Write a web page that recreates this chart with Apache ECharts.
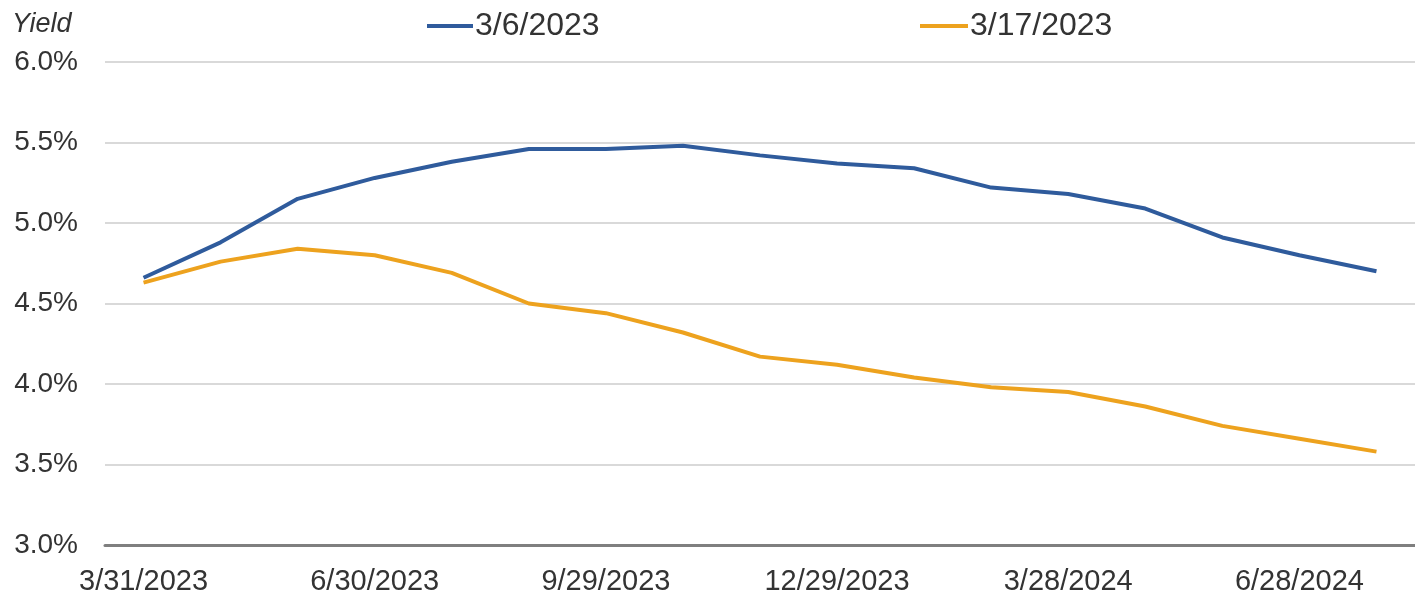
<!DOCTYPE html>
<html>
<head>
<meta charset="utf-8">
<script src="https://cdn.jsdelivr.net/npm/echarts@6/dist/echarts.min.js"></script>
<style>
  html, body { margin: 0; padding: 0; background: #fff; }
  #chart { width: 1415px; height: 597px; }
</style>
</head>
<body>
<div id="chart"></div>
<script>
  // month-end dates, one point per month
  var dates = ['3/31/2023', '4/28/2023', '5/31/2023', '6/30/2023', '7/31/2023', '8/31/2023',
    '9/29/2023', '10/31/2023', '11/30/2023', '12/29/2023', '1/31/2024', '2/29/2024',
    '3/28/2024', '4/30/2024', '5/31/2024', '6/28/2024', '7/31/2024'];
  var curveMar6 = [4.66, 4.88, 5.15, 5.28, 5.38, 5.46, 5.46, 5.48, 5.42, 5.37, 5.34, 5.22,
    5.18, 5.09, 4.91, 4.80, 4.70];
  var curveMar17 = [4.63, 4.76, 4.84, 4.80, 4.69, 4.50, 4.44, 4.32, 4.17, 4.12, 4.04, 3.98,
    3.95, 3.86, 3.74, 3.66, 3.58];

  var font = 'Liberation Sans, Arial, sans-serif';
  var blue = '#2f5b9c';
  var orange = '#eda21e';

  var chart = echarts.init(document.getElementById('chart'));
  var option = {
    animation: false,
    textStyle: { fontFamily: font },
    graphic: [{
      type: 'text',
      left: 12,
      top: 11,
      style: { text: 'Yield', fontSize: 27, fontStyle: 'italic', fill: '#333', fontFamily: font }
    }],
    legend: [{
      left: 422,
      top: 5,
      icon: 'rect',
      itemWidth: 46,
      itemHeight: 4,
      data: ['3/6/2023'],
      textStyle: { fontSize: 32, color: '#333', padding: [0, 0, 0, -3] }
    }, {
      left: 915,
      top: 5,
      icon: 'rect',
      itemWidth: 48,
      itemHeight: 4,
      data: ['3/17/2023'],
      textStyle: { fontSize: 32, color: '#333', padding: [0, 0, 0, -3] }
    }],
    grid: { left: 105, right: 0, top: 62, bottom: 52 },
    xAxis: {
      type: 'category',
      data: dates,
      boundaryGap: true,
      axisLine: { lineStyle: { color: '#7f7f7f', width: 3 } },
      axisTick: { show: false },
      axisLabel: {
        interval: 2,
        fontSize: 29,
        color: '#333',
        margin: 22
      }
    },
    yAxis: {
      type: 'value',
      min: 3,
      max: 6,
      interval: 0.5,
      axisLine: { show: false },
      axisTick: { show: false },
      splitLine: { lineStyle: { color: '#d9d9d9', width: 2 } },
      axisLabel: {
        fontSize: 28,
        color: '#333',
        margin: 27,
        formatter: function (v) { return v.toFixed(1) + '%'; }
      }
    },
    series: [{
      name: '3/6/2023',
      type: 'line',
      data: curveMar6,
      symbol: 'none',
      color: blue,
      lineStyle: { width: 4 }
    }, {
      name: '3/17/2023',
      type: 'line',
      data: curveMar17,
      symbol: 'none',
      color: orange,
      lineStyle: { width: 4 }
    }]
  };
  chart.setOption(option);
</script>
</body>
</html>
